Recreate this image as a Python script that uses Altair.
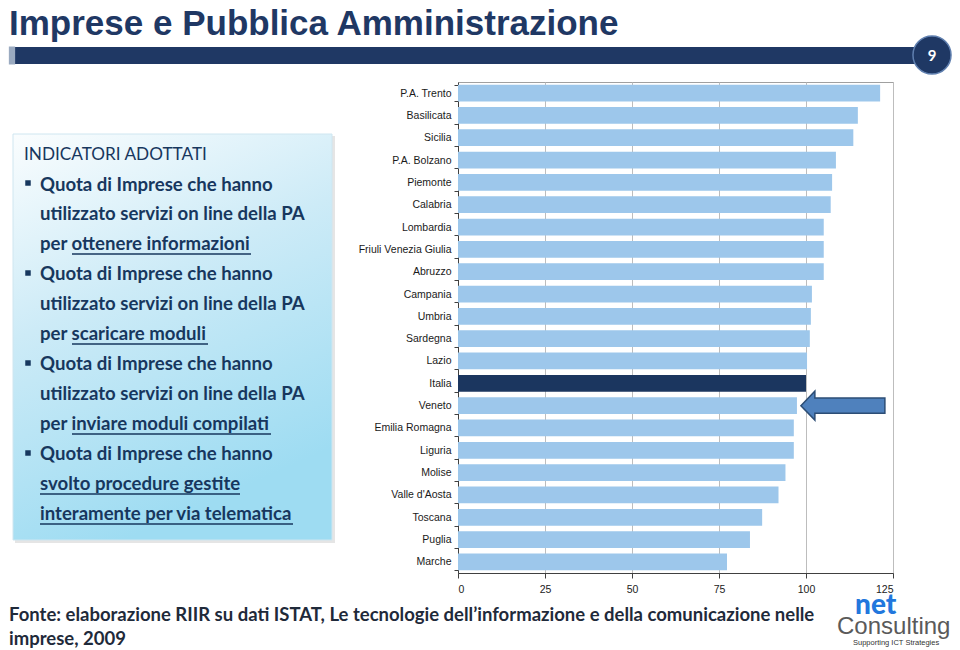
import altair as alt
import pandas as pd

# ---------------- data ----------------
regions = ["P.A. Trento", "Basilicata", "Sicilia", "P.A. Bolzano", "Piemonte", "Calabria",
           "Lombardia", "Friuli Venezia Giulia", "Abruzzo", "Campania", "Umbria", "Sardegna",
           "Lazio", "Italia", "Veneto", "Emilia Romagna", "Liguria", "Molise", "Valle d'Aosta",
           "Toscana", "Puglia", "Marche"]
values = [121.3, 114.9, 113.6, 108.6, 107.5, 107.1, 105.1, 105.1, 105.1, 101.7, 101.4, 101.1,
          100.3, 100.0, 97.4, 96.5, 96.5, 94.1, 92.1, 87.4, 83.9, 77.3]
x_ticks = [0, 25, 50, 75, 100, 125]

title_text = "Imprese e Pubblica Amministrazione"
page_number = "9"
box_heading = "INDICATORI ADOTTATI"
box_lines = [
    "Quota di Imprese che hanno", "utilizzato servizi on line della PA", "per ottenere informazioni",
    "Quota di Imprese che hanno", "utilizzato servizi on line della PA", "per scaricare moduli",
    "Quota di Imprese che hanno", "utilizzato servizi on line della PA", "per inviare moduli compilati",
    "Quota di Imprese che hanno", "svolto procedure gestite", "interamente per via telematica",
]
source_lines = ["Fonte: elaborazione RIIR su dati ISTAT, Le tecnologie dell\u2019informazione e della comunicazione nelle",
                "imprese, 2009"]
highlight = "Italia"
arrow_target = "Veneto"

# ---------------- layout helpers (page px -> plot px) ----------------
PL, PT = 458, 82          # page position of plot origin
W, H = 435, 491

def px(x):
    return x - PL

def py(y):
    return y - PT

NAVY = "#1F3864"
TXT = "#17375E"
AXFONT = "Liberation Sans"

bars_df = pd.DataFrame({"region": regions, "value": values})
bars_df["col"] = ["#1B365F" if r == highlight else "#9DC7EB" for r in regions]

ysort = regions
yscale = alt.Scale(paddingInner=0.25, paddingOuter=0.12)

bars = alt.Chart(bars_df).mark_bar().encode(
    x=alt.X("value:Q", scale=alt.Scale(domain=[0, 125], nice=False),
            axis=alt.Axis(values=x_ticks, title=None, grid=True, gridColor="#BDBDBD",
                          domainColor="#404040", tickColor="#404040", tickSize=5,
                          labelFont=AXFONT, labelFontSize=10.5, labelColor="#222222", labelPadding=6)),
    y=alt.Y("region:N", sort=ysort, scale=yscale,
            axis=alt.Axis(title=None, tickBand="extent", domainColor="#404040",
                          tickColor="#404040", tickSize=4, labelPadding=3,
                          labelFont=AXFONT, labelFontSize=10.5, labelColor="#1a1a1a")),
    color=alt.Color("col:N", scale=None),
)

arrow_df = pd.DataFrame({"region": [arrow_target], "value": [110.6]})
arrow_path = ("M -1 0 L -0.667 -0.345 L -0.667 -0.18 L 1 -0.18 L 1 0.18 "
              "L -0.667 0.18 L -0.667 0.345 Z")
arrow = alt.Chart(arrow_df).mark_point(
    shape=arrow_path, size=84 * 84, filled=True, fill="#4F81BD", stroke="#2C4D75",
    strokeWidth=1.5, opacity=1
).encode(x=alt.X("value:Q"), y=alt.Y("region:N", sort=ysort))

# ---------------- slide decorations ----------------
title = alt.Chart(pd.DataFrame({"t": [title_text]})).mark_text(
    font="Liberation Sans", fontSize=35, fontWeight="bold", color=NAVY, align="left",
    baseline="alphabetic"
).encode(text="t:N", x=alt.value(px(9)), y=alt.value(py(35)))

hdr_bar = alt.Chart(pd.DataFrame({"a": [1]})).mark_rect(color=NAVY).encode(
    x=alt.value(px(12)), x2=alt.value(px(928)), y=alt.value(py(47)), y2=alt.value(py(64)))
hdr_cap = alt.Chart(pd.DataFrame({"a": [1]})).mark_point(
    shape="M -0.35 -1 L 0.35 -1 L 0.35 1 L -0.35 1 Z", filled=True, color="#9AAAC0", size=324, opacity=1
).encode(x=alt.value(px(12)), y=alt.value(py(55.5)))
hdr_circle = alt.Chart(pd.DataFrame({"a": [1]})).mark_circle(
    size=1450, color=NAVY, opacity=1, stroke="#5F7FAF", strokeWidth=1.5
).encode(x=alt.value(px(932)), y=alt.value(py(55)))
hdr_num = alt.Chart(pd.DataFrame({"t": [page_number]})).mark_text(
    font="Lato", fontSize=15, fontWeight="bold", color="white"
).encode(text="t:N", x=alt.value(px(932)), y=alt.value(py(56)))

# text box with gradient + shadow
shadow2 = alt.Chart(pd.DataFrame({"a": [1]})).mark_rect(color="#000000", opacity=0.1).encode(
    x=alt.value(px(15)), x2=alt.value(px(335)), y=alt.value(py(136)), y2=alt.value(py(543)))
box = alt.Chart(pd.DataFrame({"a": [1]})).mark_rect(
    color=alt.Gradient(gradient="linear", x1=0, y1=0, x2=0.35, y2=1,
                       stops=[alt.GradientStop(color="#FAFDFE", offset=0),
                              alt.GradientStop(color="#CDEBF7", offset=0.45),
                              alt.GradientStop(color="#9EDCF2", offset=1)]),
    stroke="#CFE6F0", strokeWidth=1
).encode(x=alt.value(px(13)), x2=alt.value(px(332)), y=alt.value(py(134)), y2=alt.value(py(540)))

line_y = [185, 214, 244, 274, 304, 334, 364, 394, 424, 454, 484, 514]
lines_df = pd.DataFrame({"t": box_lines, "x": [px(40)] * len(box_lines), "y": [py(v) for v in line_y]})
box_text = alt.Chart(lines_df).mark_text(
    font="Lato", fontSize=18.6, fontWeight="bold", color=TXT, align="left", baseline="middle"
).encode(text="t:N", x=alt.X("x:Q", scale=None, axis=None), y=alt.Y("y:Q", scale=None, axis=None))
heading = alt.Chart(pd.DataFrame({"t": [box_heading]})).mark_text(
    font="Lato", fontSize=17.2, fontWeight="normal", color=TXT, align="left", baseline="middle"
).encode(text="t:N", x=alt.value(px(24)), y=alt.value(py(155)))

bul_df = pd.DataFrame({"x": [px(28)] * 4, "y": [py(v) for v in [183, 273, 363, 453]]})
bullets = alt.Chart(bul_df).mark_square(size=30, color=TXT, opacity=1).encode(
    x=alt.X("x:Q", scale=None, axis=None), y=alt.Y("y:Q", scale=None, axis=None))

ul_df = pd.DataFrame({"x": [px(v) for v in [72, 72, 72, 40, 40]],
                      "x2": [px(v) for v in [251, 208, 271, 240, 293]],
                      "y": [py(v) for v in [254, 344, 434, 494, 524]]})
underlines = alt.Chart(ul_df).mark_rule(color=TXT, strokeWidth=1.3).encode(
    x=alt.X("x:Q", scale=None, axis=None), x2="x2:Q", y=alt.Y("y:Q", scale=None, axis=None))

src_df = pd.DataFrame({"t": source_lines, "x": [px(9), px(9)], "y": [py(621), py(645)]})
source = alt.Chart(src_df).mark_text(
    font="Lato", fontSize=18.5, fontWeight="bold", color="#1F2A3A", align="left", baseline="alphabetic"
).encode(text="t:N", x=alt.X("x:Q", scale=None, axis=None), y=alt.Y("y:Q", scale=None, axis=None))

logo_net = alt.Chart(pd.DataFrame({"t": ["net"]})).mark_text(
    font="Lato", fontSize=28, fontWeight=900, color="#2277DD", align="left", baseline="alphabetic"
).encode(text="t:N", x=alt.value(px(855)), y=alt.value(py(614)))
logo_cons = alt.Chart(pd.DataFrame({"t": ["Consulting"]})).mark_text(
    font="Liberation Sans", fontSize=24, color="#5A5A5A",
    align="left", baseline="alphabetic"
).encode(text="t:N", x=alt.value(px(837)), y=alt.value(py(634)))
logo_sub = alt.Chart(pd.DataFrame({"t": ["Supporting ICT Strategies"]})).mark_text(
    font="Liberation Sans", fontSize=7.5, color="#333333",
    align="left", baseline="alphabetic"
).encode(text="t:N", x=alt.value(px(853)), y=alt.value(py(645)))

chart = alt.layer(
    title, hdr_bar, hdr_cap, hdr_circle, hdr_num,
    shadow2, box, heading, box_text, bullets, underlines,
    bars, arrow,
    source, logo_net, logo_cons, logo_sub,
).properties(
    width=W, height=H,
    autosize=alt.AutoSizeParams(type="none"),
    padding={"left": PL - 8, "top": PT - 8, "right": 960 - 16 - (PL - 8) - W, "bottom": 642 - (PT - 8) - H},
    background="white",
).configure_view(stroke="#A0A0A0", strokeWidth=1)

chart.save("out.html", embed_options={"renderer": "svg", "actions": False})
